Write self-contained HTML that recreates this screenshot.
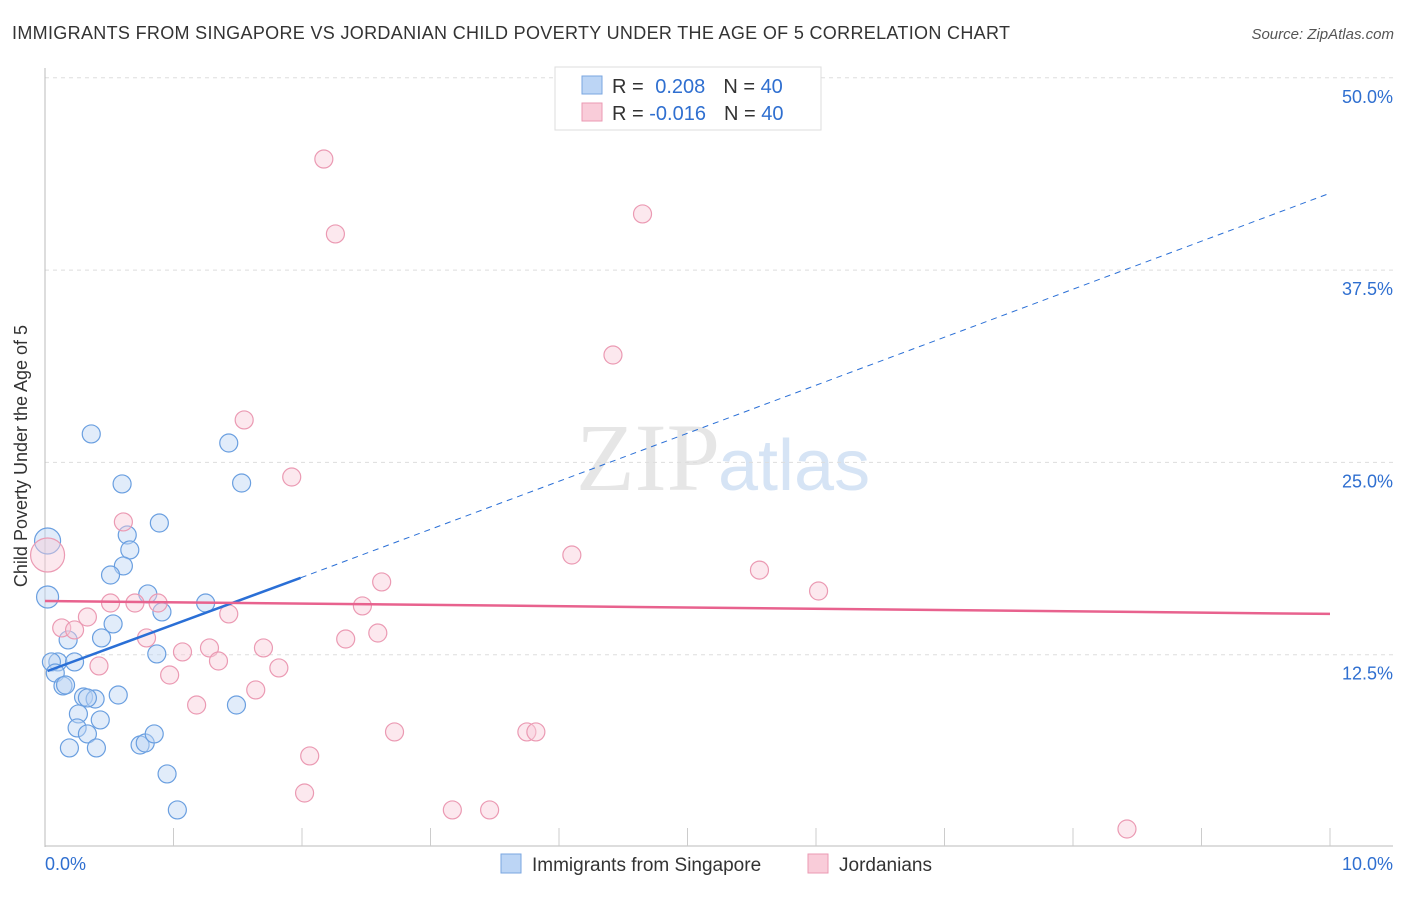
<!DOCTYPE html>
<html><head><meta charset="utf-8"><style>
body{margin:0;background:#fff;font-family:"Liberation Sans",sans-serif;}
</style></head><body>
<svg width="1406" height="892" xmlns="http://www.w3.org/2000/svg">
<text x="12" y="39" font-size="18" fill="#333" textLength="998">IMMIGRANTS FROM SINGAPORE VS JORDANIAN CHILD POVERTY UNDER THE AGE OF 5 CORRELATION CHART</text>
<text x="1394" y="39" font-size="15" fill="#555" font-style="italic" text-anchor="end">Source: ZipAtlas.com</text>
<text x="720" y="490" font-size="96" fill="#e6e6e6" text-anchor="end" font-family="Liberation Serif">ZIP</text>
<text x="718" y="490" font-size="72" fill="#d6e4f5">atlas</text>
<g id="grid"></g>
<g id="marks"></g>
<text x="27" y="456" font-size="18" fill="#333" text-anchor="middle" transform="rotate(-90 27 456)">Child Poverty Under the Age of 5</text>
<g>
<rect x="555" y="67" width="266" height="63" fill="#fff" stroke="#ddd"/>
<rect x="582" y="76" width="20" height="18" fill="#bcd5f5" stroke="#7aa6e0"/>
<rect x="582" y="103" width="20" height="18" fill="#f9ccd9" stroke="#eb9ab3"/>
<text x="612" y="93" font-size="20" fill="#333">R = <tspan fill="#2f6fd0" dx="6">0.208</tspan><tspan dx="18">N = </tspan><tspan fill="#2f6fd0">40</tspan></text>
<text x="612" y="120" font-size="20" fill="#333">R = <tspan fill="#2f6fd0">-0.016</tspan><tspan dx="18">N = </tspan><tspan fill="#2f6fd0">40</tspan></text>
</g>
<g>
<rect x="501" y="854" width="20" height="19" fill="#bcd5f5" stroke="#7aa6e0"/>
<text x="532" y="871" font-size="19" fill="#333">Immigrants from Singapore</text>
<rect x="808" y="854" width="20" height="19" fill="#f9ccd9" stroke="#eb9ab3"/>
<text x="839" y="871" font-size="19" fill="#333">Jordanians</text>
</g>
<text x="45" y="870" font-size="18" fill="#2f6fd0">0.0%</text>
<text x="1393" y="870" font-size="18" fill="#2f6fd0" text-anchor="end">10.0%</text>
</svg>
<script>
const yTicks=[12.5,25,37.5,50];
const yTickLabels=["12.5%","25.0%","37.5%","50.0%"];
const blueX=[0.36,1.43,0.60,1.53,0.89,0.64,0.66,0.02,0.61,0.51,0.80,0.02,1.25,0.91,0.53,0.44,0.18,0.87,0.10,0.23,0.05,0.08,0.14,0.16,0.30,0.39,0.33,0.57,0.26,0.43,0.25,0.33,0.19,0.40,0.74,0.78,0.85,1.49,0.95,1.03];
const blueY=[26.85,26.26,23.6,23.66,21.06,20.28,19.31,19.89,18.27,17.68,16.45,16.25,15.86,15.28,14.5,13.59,13.46,12.55,12.03,12.03,12.03,11.31,10.47,10.53,9.75,9.62,9.69,9.88,8.65,8.26,7.74,7.35,6.44,6.44,6.63,6.76,7.35,9.23,4.75,2.41];
const blueBig=[7];
const pinkX=[2.17,2.26,4.65,4.42,1.55,1.92,0.61,0.02,4.10,5.56,2.62,6.02,0.51,0.88,0.70,2.47,1.43,0.33,0.13,0.23,0.79,2.59,2.34,1.07,1.28,1.70,1.35,0.42,1.82,0.97,1.64,1.18,2.72,3.75,3.82,2.06,2.02,3.17,3.46,8.42];
const pinkY=[44.72,39.85,41.15,31.98,27.76,24.05,21.13,18.98,18.98,18.0,17.23,16.64,15.86,15.86,15.86,15.67,15.15,14.95,14.24,14.11,13.59,13.91,13.52,12.68,12.94,12.94,12.09,11.77,11.64,11.18,10.21,9.23,7.48,7.48,7.48,5.92,3.51,2.41,2.41,1.17];
const pinkBig=[7];
const blueTrend=[[0.02,11.44],[1.99,17.5],[10,42.5]];
const pinkTrend=[[0,15.99],[10,15.15]];
const NS="http://www.w3.org/2000/svg";
const X=v=>45+v*128.5, Y=v=>847-v*15.384;
function mk(t,a,p){const e=document.createElementNS(NS,t);for(const k in a)e.setAttribute(k,a[k]);p.appendChild(e);return e;}
const grid=document.getElementById('grid'), marks=document.getElementById('marks');
yTicks.forEach((t,i)=>{
 const l=mk('line',{x1:45,x2:1393,y1:Y(t),y2:Y(t),stroke:'#ddd','stroke-dasharray':'4 4'},grid);
 
 
 const tx=mk('text',{x:1393,y:Y(t)+25,'font-size':18,fill:'#2f6fd0','text-anchor':'end'},grid);
 tx.textContent=yTickLabels[i];
 
 
});
mk('line',{x1:45,x2:45,y1:68,y2:847,stroke:'#bbb'},grid);
mk('line',{x1:45,x2:1393,y1:846,y2:846,stroke:'#bbb'},grid);
for(let i=1;i<=10;i++){const t=mk('line',{x1:X(i),x2:X(i),y1:828,y2:846,stroke:'#ccc'},grid);
 
 }
function dots(xs,ys,big,bigR,fill,stroke,name){xs.forEach((x,i)=>{
 const c=mk('circle',{cx:X(x),cy:Y(ys[i]),r:big.includes(i)?bigR:(x<0.05?11:9),fill:fill,'fill-opacity':0.45,stroke:stroke,'stroke-width':1.2},marks);
 
 
});}
dots(blueX,blueY,blueBig,13,'#bcd5f5','#6a9fe0','point-singapore');
dots(pinkX,pinkY,pinkBig,17,'#f9ccd9','#eb9ab3','point-jordanians');
const b1=mk('line',{x1:X(blueTrend[0][0]),y1:Y(blueTrend[0][1]),x2:X(blueTrend[1][0]),y2:Y(blueTrend[1][1]),stroke:'#2a6fd6','stroke-width':2.5},marks);


const b2=mk('line',{x1:X(blueTrend[1][0]),y1:Y(blueTrend[1][1]),x2:X(blueTrend[2][0]),y2:Y(blueTrend[2][1]),stroke:'#2a6fd6','stroke-width':1,'stroke-dasharray':'6 5'},marks);


const p1=mk('line',{x1:X(pinkTrend[0][0]),y1:Y(pinkTrend[0][1]),x2:X(pinkTrend[1][0]),y2:Y(pinkTrend[1][1]),stroke:'#e8628e','stroke-width':2.5},marks);


</script>
</body></html>
